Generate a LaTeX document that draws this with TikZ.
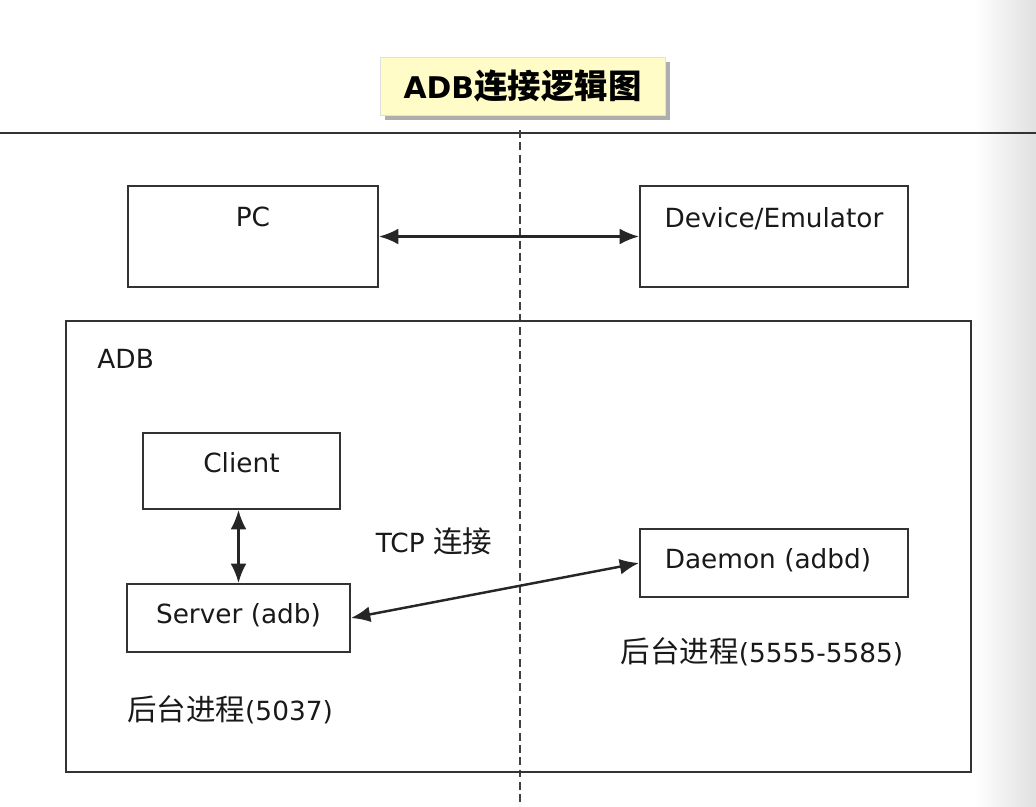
\documentclass[tikz,border=0pt]{standalone}
\usepackage{fontspec}
\setmainfont{DejaVu Sans}
\newfontfamily\cjk[Scale=1.12]{Noto Sans CJK SC}
\usepackage{tikz}
\usetikzlibrary{arrows,arrows.meta,positioning,shapes,shadows}

\begin{document}
\begin{tikzpicture}[
            x=0.02cm,y=-0.02cm,
            box/.style={draw=black!80,rectangle,line width=1.1pt,inner sep=0pt},
            lab/.style={font=\fontsize{15}{18}\selectfont,inner sep=0pt,text=black!90},
            title/.style={rectangle,fill=yellow!22,draw=black!12,minimum width=5.7cm,minimum height=1.16cm,
              drop shadow={shadow xshift=3pt,shadow yshift=-3pt,opacity=.45,fill=black!70},
              font=\fontsize{17}{20}\selectfont\bfseries},
            link/.style={draw=black!85,line width=1.4pt,{Latex[length=11pt,width=9pt]}-{Latex[length=11pt,width=9pt]}}
          ]
          \useasboundingbox (0,0) rectangle (1036,806);
          \fill[left color=white,right color=black!12] (975,0) rectangle (1036,806);

          %title and separators
          \draw[black!80,line width=1pt] (0,133) -- (1036,133);
          \draw[black!75,line width=1.2pt,dash pattern=on 4.5pt off 2.5pt] (520,130) -- (520,806);
          \node[title] (ttl) at (522.5,86) {ADB{\cjk 连接逻辑图}};

          %top row
          \node[box,minimum width=5cm,minimum height=2.02cm] (pc) at (253,236.5) {};
          \node[box,minimum width=5.36cm,minimum height=2.02cm] (dev) at (774,236.5) {};
          \node[lab,below=0.44cm of pc.north] {PC};
          \node[lab,below=0.44cm of dev.north] {Device/Emulator};

          %adb frame
          \node[box,minimum width=18.1cm,minimum height=9.02cm] (adb) at (518.5,546.5) {};
          \node[lab,below right=0.58cm and 0.64cm of adb.north west] {ADB};

          %processes
          \node[box,minimum width=3.94cm,minimum height=1.52cm] (cli) at (241.5,471) {};
          \node[lab] at (241.5,463) {Client};
          \node[box,minimum width=4.46cm,minimum height=1.36cm] (srv) at (238.5,618) {};
          \node[lab] at (238.5,615) {Server (adb)};
          \node[box,minimum width=5.36cm,minimum height=1.36cm] (dmn) at (774,563) {};
          \node[lab] at (768,560) {Daemon (adbd)};

          %labels
          \node[lab] (tcp) at (434,541) {TCP {\cjk 连接}};
          \node[lab] (bg1) at (230,710) {{\cjk 后台进程}(5037)};
          \node[lab] (bg2) at (762,652) {{\cjk 后台进程}(5555-5585)};

          %links
          \draw[link] (pc.east) -- (dev.west);
          \draw[link] (srv.north) -- (srv.north |- cli.south);
          \draw[link] (srv.east) -- (dmn.west);
      \end{tikzpicture}
\end{document}
